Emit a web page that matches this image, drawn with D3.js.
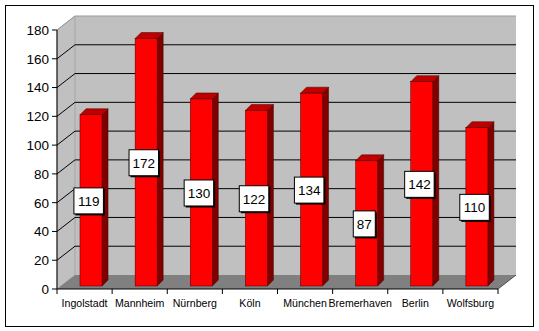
<!DOCTYPE html>
<html>
<head>
<meta charset="utf-8">
<script src="https://cdn.jsdelivr.net/npm/d3@7"></script>
<style>
  html, body { margin: 0; padding: 0; background: #fff; }
  svg { display: block; font-family: "Liberation Sans", Arial, sans-serif; }
</style>
</head>
<body>
<svg id="chart" width="539" height="331"></svg>
<script>
// City values
const categories = ["Ingolstadt", "Mannheim", "Nürnberg", "Köln", "München", "Bremerhaven", "Berlin", "Wolfsburg"];
const values = [119, 172, 130, 122, 134, 87, 142, 110];
const yTicks = [0, 20, 40, 60, 80, 100, 120, 140, 160, 180];

const svg = d3.select("#chart");

// Front plane geometry and 3D depth offsets
const x = d3.scaleBand().domain(categories).range([57, 498]).padding(0);
const y = d3.scaleLinear().domain([0, 180]).range([289, 30]);
const wallDX = 18, wallDY = -14;   // depth of the walls
const barDX = 6, barDY = -6;       // depth of each bar
const barShiftY = -3;              // bars stand slightly behind the front plane
const bw = x.bandwidth();
const barOff = bw * 0.417, barW = bw * 0.4;

const x0 = x.range()[0], x1 = x.range()[1];
const yTop = y(180), yBase = y(0);

// Outer frame
svg.append("rect")
  .attr("x", 5.5).attr("y", 5.5).attr("width", 528).attr("height", 321)
  .attr("fill", "#fff").attr("stroke", "#000").attr("stroke-width", 1);

const line = d3.line();

// Back wall
svg.append("path")
  .attr("d", line([[x0 + wallDX, yTop + wallDY], [x1 + wallDX, yTop + wallDY], [x1 + wallDX, yBase + wallDY], [x0 + wallDX, yBase + wallDY]]) + "Z")
  .attr("fill", "#c0c0c0");

// Left wall
svg.append("path")
  .attr("d", line([[x0, yTop], [x0 + wallDX, yTop + wallDY], [x0 + wallDX, yBase + wallDY], [x0, yBase]]) + "Z")
  .attr("fill", "#c0c0c0").attr("stroke", "#a0a0a0").attr("stroke-width", 0.8);

// Gridlines: diagonal on the left wall, horizontal on the back wall
yTicks.filter(t => t > 0).forEach(t => {
  const yy = y(t);
  svg.append("path")
    .attr("d", line([[x0, yy], [x0 + wallDX, yy + wallDY], [x1 + wallDX, yy + wallDY]]))
    .attr("fill", "none")
    .attr("stroke", t === 180 ? "#9a9a9a" : "#000")
    .attr("stroke-width", 1);
});

// Floor
svg.append("path")
  .attr("d", line([[x0, yBase], [x1, yBase], [x1 + wallDX, yBase + wallDY], [x0 + wallDX, yBase + wallDY]]) + "Z")
  .attr("fill", "#808080");
svg.append("path")
  .attr("d", line([[x1, yBase], [x1 + wallDX, yBase + wallDY]]))
  .attr("stroke", "#333").attr("stroke-width", 0.8).attr("fill", "none");

// Bars
const bars = svg.append("g").selectAll("g").data(categories).join("g");
bars.each(function(c, i) {
  const g = d3.select(this);
  const v = values[i];
  const bx = x(c) + barOff;
  const top = y(v) + barShiftY;
  const bot = y(0) + barShiftY;
  // side face
  g.append("path")
    .attr("d", line([[bx + barW, top], [bx + barW + barDX, top + barDY], [bx + barW + barDX, bot + barDY], [bx + barW, bot]]) + "Z")
    .attr("fill", "#800000").attr("stroke", "#400000").attr("stroke-width", 0.5);
  // top face
  g.append("path")
    .attr("d", line([[bx, top], [bx + barDX, top + barDY], [bx + barW + barDX, top + barDY], [bx + barW, top]]) + "Z")
    .attr("fill", "#c00000").attr("stroke", "#400000").attr("stroke-width", 0.5);
  // front face
  g.append("rect")
    .attr("x", bx).attr("y", top).attr("width", barW).attr("height", bot - top)
    .attr("fill", "#ff0000").attr("stroke", "#400000").attr("stroke-width", 0.5);
});

// Y axis
const yAxisG = svg.append("g");
yAxisG.append("line")
  .attr("x1", x0).attr("x2", x0).attr("y1", yTop).attr("y2", yBase)
  .attr("stroke", "#000");
yTicks.forEach(t => {
  yAxisG.append("line")
    .attr("x1", x0 - 5).attr("x2", x0).attr("y1", y(t)).attr("y2", y(t))
    .attr("stroke", "#000");
  yAxisG.append("text")
    .attr("x", x0 - 8).attr("y", y(t)).attr("dy", "0.36em")
    .attr("text-anchor", "end").attr("font-size", 13.5).attr("fill", "#000")
    .text(t);
});

// X axis
const xAxisG = svg.append("g");
xAxisG.append("line")
  .attr("x1", x0).attr("x2", x1).attr("y1", yBase).attr("y2", yBase)
  .attr("stroke", "#000");
const bounds = categories.map(c => x(c)).concat([x1]);
bounds.forEach(b => {
  xAxisG.append("line")
    .attr("x1", b).attr("x2", b).attr("y1", yBase).attr("y2", yBase + 5)
    .attr("stroke", "#000");
});
categories.forEach(c => {
  xAxisG.append("text")
    .attr("x", x(c) + bw / 2).attr("y", 307)
    .attr("text-anchor", "middle").attr("font-size", 10.6).attr("fill", "#000")
    .text(c);
});

// Value labels in boxes with drop shadow
const labels = svg.append("g");
categories.forEach((c, i) => {
  const v = values[i];
  const cx = x(c) + bw / 2 + 3.6;
  const cy = (y(v) + y(0)) / 2 + barShiftY;
  const txt = String(v);
  const w = txt.length * 7.5 + 7;
  const h = 26;
  labels.append("rect")
    .attr("x", cx - w / 2 + 2).attr("y", cy - h / 2 + 2).attr("width", w).attr("height", h)
    .attr("fill", "#000");
  labels.append("rect")
    .attr("x", cx - w / 2 + 0.5).attr("y", cy - h / 2 + 0.5).attr("width", w).attr("height", h)
    .attr("fill", "#fff").attr("stroke", "#000").attr("stroke-width", 1);
  labels.append("text")
    .attr("x", cx + 0.5).attr("y", cy + 0.5).attr("dy", "0.36em")
    .attr("text-anchor", "middle").attr("font-size", 13.5).attr("fill", "#000")
    .text(txt);
});
</script>
</body>
</html>
